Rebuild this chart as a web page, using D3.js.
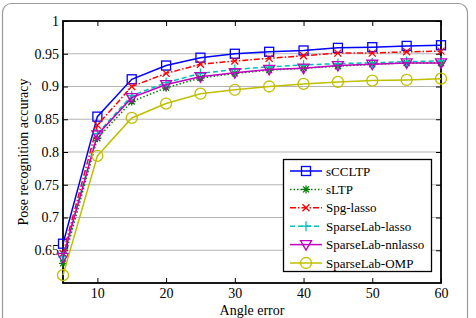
<!DOCTYPE html>
<html>
<head>
<meta charset="utf-8">
<script src="https://cdn.jsdelivr.net/npm/d3@7"></script>
<style>
  html, body { margin: 0; padding: 0; background: #fff; }
  svg text { font-family: "Liberation Serif", "DejaVu Serif", "Times New Roman", Times, serif !important; fill: #000; }
</style>
</head>
<body>
<div id="chart"></div>
<script>
const angles = [5, 10, 15, 20, 25, 30, 35, 40, 45, 50, 55, 60];
const sCCLTP = [0.660, 0.854, 0.911, 0.932, 0.944, 0.950, 0.953, 0.955, 0.959, 0.960, 0.962, 0.963];
const sLTP = [0.630, 0.821, 0.877, 0.898, 0.913, 0.920, 0.925, 0.928, 0.931, 0.934, 0.936, 0.936];
const spgLasso = [0.645, 0.841, 0.900, 0.920, 0.934, 0.939, 0.943, 0.947, 0.951, 0.951, 0.953, 0.954];
const slLasso = [0.640, 0.828, 0.886, 0.906, 0.920, 0.926, 0.930, 0.933, 0.935, 0.936, 0.938, 0.939];
const slNnlasso = [0.639, 0.826, 0.883, 0.903, 0.915, 0.921, 0.926, 0.928, 0.932, 0.934, 0.936, 0.936];
const slOMP = [0.612, 0.794, 0.852, 0.874, 0.889, 0.895, 0.900, 0.904, 0.907, 0.909, 0.910, 0.912];
const xTicks = [10, 20, 30, 40, 50, 60];
const yTicks = [0.65, 0.7, 0.75, 0.8, 0.85, 0.9, 0.95, 1];

const series = [
  { name: 'sCCLTP', values: sCCLTP, color: '#0000ff', dash: null, marker: 'square' },
  { name: 'sLTP', values: sLTP, color: '#008000', dash: '1.5,2', marker: 'star' },
  { name: 'Spg-lasso', values: spgLasso, color: '#ff0000', dash: '6,2,1.5,2', marker: 'x' },
  { name: 'SparseLab-lasso', values: slLasso, color: '#00bfbf', dash: '5,3', marker: 'plus' },
  { name: 'SparseLab-nnlasso', values: slNnlasso, color: '#bf00bf', dash: null, marker: 'tri' },
  { name: 'SparseLab-OMP', values: slOMP, color: '#bfbf00', dash: null, marker: 'circle' }
];

const W = 476, H = 318;
const m = { left: 63, right: 441, top: 21, bottom: 283 };
const FONT = '"Liberation Serif", "DejaVu Serif", serif';

const svg = d3.select('#chart').append('svg')
  .attr('width', W).attr('height', H)
  .attr('font-family', FONT);

// outer rounded frame
svg.append('rect')
  .attr('x', 2.5).attr('y', 3.5)
  .attr('width', 465).attr('height', 340)
  .attr('rx', 9)
  .attr('fill', 'none').attr('stroke', '#9a9a9a').attr('stroke-width', 1.2);

const x = d3.scaleLinear().domain([5, 60]).range([m.left, m.right]);
const y = d3.scaleLinear().domain([0.6, 1]).range([m.bottom, m.top]);

// horizontal grid
svg.append('g').selectAll('line')
  .data(yTicks.filter(d => d < 1))
  .enter().append('line')
  .attr('x1', m.left).attr('x2', m.right)
  .attr('y1', d => y(d)).attr('y2', d => y(d))
  .attr('stroke', '#b4b4b4').attr('stroke-width', 1.2);

// axes with inward ticks
const tickLen = 5;
const gx = svg.append('g').attr('transform', `translate(0,${m.bottom})`)
  .call(d3.axisBottom(x).tickValues(xTicks).tickSizeInner(-tickLen).tickSizeOuter(0).tickPadding(5));
const gxTop = svg.append('g').attr('transform', `translate(0,${m.top})`)
  .call(d3.axisTop(x).tickValues(xTicks).tickSizeInner(-tickLen).tickSizeOuter(0).tickFormat(''));
const gy = svg.append('g').attr('transform', `translate(${m.left},0)`)
  .call(d3.axisLeft(y).tickValues(yTicks).tickSizeInner(-tickLen).tickSizeOuter(0).tickPadding(4)
    .tickFormat(d => d === 1 ? '1' : d3.format('.2~f')(d)));
const gyRight = svg.append('g').attr('transform', `translate(${m.right},0)`)
  .call(d3.axisRight(y).tickValues(yTicks).tickSizeInner(-tickLen).tickSizeOuter(0).tickFormat(''));

[gx, gxTop, gy, gyRight].forEach(g => {
  g.attr('font-family', FONT).attr('font-size', 14);
  g.select('.domain').remove();
  g.selectAll('line').attr('stroke', '#000').attr('stroke-width', 1);
  g.selectAll('text').attr('fill', '#000');
});

// frame
svg.append('rect')
  .attr('x', m.left).attr('y', m.top)
  .attr('width', m.right - m.left).attr('height', m.bottom - m.top)
  .attr('fill', 'none').attr('stroke', '#000').attr('stroke-width', 1.8);

// axis titles
svg.append('text')
  .attr('x', (m.left + m.right) / 2).attr('y', 315)
  .attr('text-anchor', 'middle').attr('font-size', 14)
  .text('Angle error');
svg.append('text')
  .attr('transform', `translate(28,${(m.top + m.bottom) / 2}) rotate(-90)`)
  .attr('text-anchor', 'middle').attr('font-size', 14)
  .text('Pose recognition accuracy');

function drawMarker(g, type, color) {
  if (type === 'square') {
    g.append('rect').attr('x', -4.5).attr('y', -4.5).attr('width', 9).attr('height', 9)
      .attr('fill', 'none').attr('stroke', color).attr('stroke-width', 1.3);
  } else if (type === 'circle') {
    g.append('circle').attr('r', 5.5)
      .attr('fill', 'none').attr('stroke', color).attr('stroke-width', 1.3);
  } else if (type === 'tri') {
    g.append('path').attr('d', 'M-5.5,-4 L5.5,-4 L0,5.5 Z')
      .attr('fill', 'none').attr('stroke', color).attr('stroke-width', 1.3);
  } else if (type === 'x') {
    g.append('path').attr('d', 'M-3.5,-3.5 L3.5,3.5 M-3.5,3.5 L3.5,-3.5')
      .attr('stroke', color).attr('stroke-width', 1.3);
  } else if (type === 'plus') {
    g.append('path').attr('d', 'M-5,0 L5,0 M0,-5 L0,5')
      .attr('stroke', color).attr('stroke-width', 1.3);
  } else if (type === 'star') {
    g.append('path').attr('d', 'M-4,0 L4,0 M0,-4 L0,4 M-3,-3 L3,3 M-3,3 L3,-3')
      .attr('stroke', color).attr('stroke-width', 1.3);
  }
}

const line = d3.line().x((d, i) => x(angles[i])).y(d => y(d));

const plot = svg.append('g');
series.forEach(s => {
  plot.append('path')
    .datum(s.values)
    .attr('d', line)
    .attr('fill', 'none')
    .attr('stroke', s.color)
    .attr('stroke-width', 1.5)
    .attr('stroke-dasharray', s.dash);
  plot.selectAll(null)
    .data(s.values)
    .enter().append('g')
    .attr('transform', (d, i) => `translate(${x(angles[i])},${y(d)})`)
    .each(function () { drawMarker(d3.select(this), s.marker, s.color); });
});

// legend
const lg = svg.append('g');
lg.append('rect')
  .attr('x', 283.5).attr('y', 159.5).attr('width', 148).attr('height', 112)
  .attr('fill', '#fff').attr('stroke', '#000').attr('stroke-width', 1.3);
series.forEach((s, i) => {
  const ly = 171 + i * 18.4;
  lg.append('line')
    .attr('x1', 290).attr('x2', 322).attr('y1', ly).attr('y2', ly)
    .attr('stroke', s.color).attr('stroke-width', 1.5)
    .attr('stroke-dasharray', s.dash);
  drawMarker(lg.append('g').attr('transform', `translate(306,${ly})`), s.marker, s.color);
  lg.append('text')
    .attr('x', 326).attr('y', ly).attr('dy', '0.35em')
    .attr('font-size', 13)
    .text(s.name);
});
</script>
</body>
</html>
